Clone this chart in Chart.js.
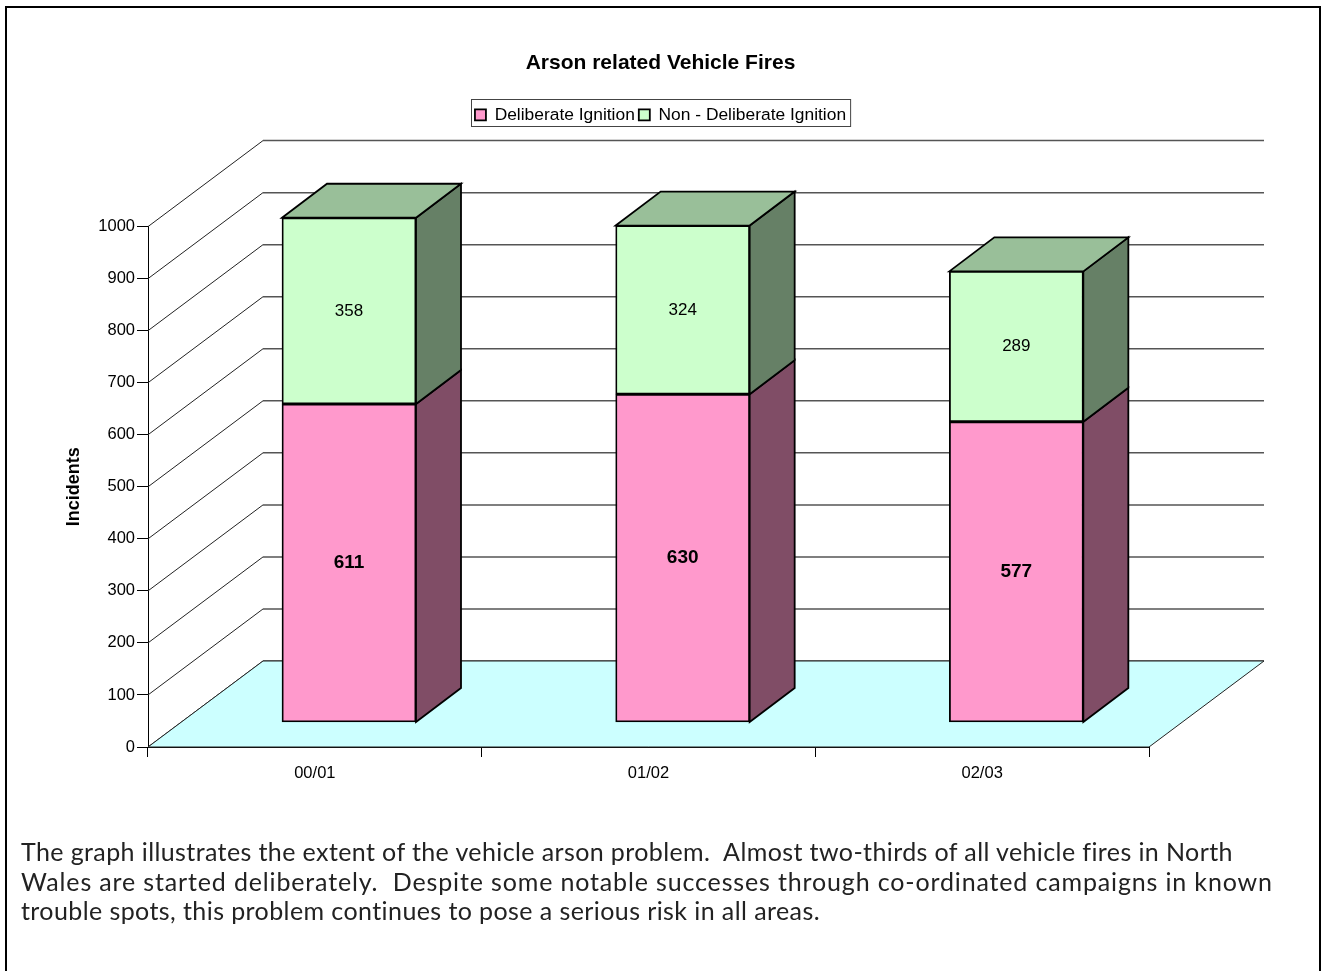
<!DOCTYPE html>
<html>
<head>
<meta charset="utf-8">
<title>Arson related Vehicle Fires</title>
<script src="https://cdn.jsdelivr.net/npm/chart.js@4/dist/chart.umd.min.js"></script>
<style>
  html, body { margin: 0; padding: 0; background: #fff; overflow: hidden; }
  #page { position: relative; width: 1321px; height: 971px; }
  #frame { position: absolute; left: 5px; top: 6px; width: 1312px; height: 965px; border: 2px solid #000; border-bottom: 0; }
  #holder { position: absolute; left: 0; top: 0; width: 1321px; height: 971px; }
  #note { position: absolute; left: 21px; top: 837px; font: 25px/29.5px Lato, sans-serif; color: #222; white-space: pre; }
  #note span { display: table; }
</style>
</head>
<body>
<div id="page">
  <div id="holder"><canvas id="myChart" width="1321" height="971"></canvas></div>
  <div id="frame"></div>
  <div id="note"></div>
</div>
<script>
const years = ['00/01', '01/02', '02/03']
const deliberate = [611, 630, 577]
const nonDeliberate = [358, 324, 289]
const yTicksMax = 1000
const noteLines = [
    'The graph illustrates the extent of the vehicle arson problem.  Almost two-thirds of all vehicle fires in North',
    'Wales are started deliberately.  Despite some notable successes through co-ordinated campaigns in known',
    'trouble spots, this problem continues to pose a serious risk in all areas.'
]
const noteWidths = [1211, 1251, 799]

// how far the box recedes into the page, and how far each bar does
const wallDepth = {x: 115, y: 86}
const barDepth = {x: 45, y: 34}

// spread each line of the note out to its set width
noteLines.forEach((line, i) => {
    let span = document.createElement('span')
    span.textContent = line
    document.getElementById('note').appendChild(span)
    let extra = noteWidths[i] - span.getBoundingClientRect().width
    span.style.letterSpacing = (extra / (line.length - 1)) + 'px'
})

Chart.defaults.font.family = '"Liberation Sans", Arial, sans-serif'
Chart.defaults.color = '#000'

function poly(ctx, pts, fill, stroke, width){
    ctx.beginPath()
    pts.forEach((p, i) => i == 0 ? ctx.moveTo(p[0], p[1]) : ctx.lineTo(p[0], p[1]))
    ctx.closePath()
    if(fill){
        ctx.fillStyle = fill
        ctx.fill()
    }
    if(stroke){
        ctx.strokeStyle = stroke
        ctx.lineWidth = width
        ctx.stroke()
    }
}

// the back wall, floor and the side/top faces of each bar
const box3d = {
    id: 'box3d',
    beforeDatasetsDraw(chart){
        let ctx = chart.ctx
        let yAxis = chart.scales.y
        let left = chart.chartArea.left
        let right = chart.chartArea.right
        let zero = yAxis.getPixelForValue(0)
        ctx.save()
        yAxis.ticks.forEach(t => {
            let y = yAxis.getPixelForValue(t.value)
            ctx.beginPath()
            ctx.moveTo(left, y)
            ctx.lineTo(left + wallDepth.x, y - wallDepth.y)
            ctx.strokeStyle = '#222'
            ctx.lineWidth = 1
            ctx.stroke()
            ctx.beginPath()
            ctx.moveTo(left + wallDepth.x, y - wallDepth.y)
            ctx.lineTo(right + wallDepth.x, y - wallDepth.y)
            ctx.strokeStyle = '#555'
            ctx.lineWidth = 1.5
            ctx.stroke()
        })
        poly(ctx, [[left, zero], [right, zero], [right + wallDepth.x, zero - wallDepth.y], [left + wallDepth.x, zero - wallDepth.y]], '#CCFFFF', '#222', 1)

        chart.data.datasets.forEach((ds, d) => {
            chart.getDatasetMeta(d).data.forEach(bar => {
                let x2 = bar.x + bar.width / 2
                poly(ctx, [[x2, bar.base], [x2 + barDepth.x, bar.base - barDepth.y], [x2 + barDepth.x, bar.y - barDepth.y], [x2, bar.y]], ds.sideColor, '#000', 1.8)
                if(d == chart.data.datasets.length - 1){
                    let x1 = bar.x - bar.width / 2
                    poly(ctx, [[x1, bar.y], [x1 + barDepth.x, bar.y - barDepth.y], [x2 + barDepth.x, bar.y - barDepth.y], [x2, bar.y]], ds.topColor, '#000', 1.8)
                }
            })
        })
        ctx.restore()
    },
    afterDatasetsDraw(chart){
        let ctx = chart.ctx
        ctx.save()
        ctx.textAlign = 'center'
        ctx.textBaseline = 'middle'
        ctx.fillStyle = '#000'
        chart.data.datasets.forEach((ds, d) => {
            chart.getDatasetMeta(d).data.forEach((bar, i) => {
                ctx.font = ds.labelFont
                ctx.fillText(ds.data[i].y, bar.x, (bar.y + bar.base) / 2)
            })
        })
        ctx.restore()
    }
}

// legend gets a white box with a border, and extra room underneath it
const legendBox = {
    id: 'legendBox',
    beforeInit(chart){
        let fit = chart.legend.fit
        chart.legend.fit = function(){
            fit.call(this)
            this.height += 93
        }
    },
    beforeDraw(chart){
        let ctx = chart.ctx
        let hits = chart.legend.legendHitBoxes
        let last = hits[hits.length - 1]
        ctx.save()
        ctx.strokeStyle = '#444'
        ctx.lineWidth = 1
        ctx.strokeRect(Math.round(hits[0].left) - 3.5, 99.5, last.left + last.width - hits[0].left + 8, 27)
        ctx.restore()
    }
}

new Chart(document.getElementById('myChart').getContext('2d'), {
    type: 'bar',
    data: {
        labels: years,
        datasets: [
            {
                label: 'Deliberate Ignition',
                data: deliberate.map((v, i) => ({x: i, y: v})),
                backgroundColor: '#FF99CC',
                borderColor: '#000',
                borderWidth: 1.8,
                borderSkipped: false,
                sideColor: '#804D66',
                labelFont: 'bold 19px "Liberation Sans"',
                xAxisID: 'xBar',
                yAxisID: 'yBar',
                clip: false
            },
            {
                label: 'Non - Deliberate Ignition',
                data: nonDeliberate.map((v, i) => ({x: i, y: v})),
                backgroundColor: '#CCFFCC',
                borderColor: '#000',
                borderWidth: 1.8,
                borderSkipped: false,
                sideColor: '#668066',
                topColor: '#99BF99',
                labelFont: '17px "Liberation Sans"',
                xAxisID: 'xBar',
                yAxisID: 'yBar',
                clip: false
            }
        ]
    },
    options: {
        responsive: false,
        animation: false,
        barThickness: 134,
        layout: {padding: 0},
        plugins: {
            title: {
                display: true,
                text: 'Arson related Vehicle Fires',
                font: {size: 21, weight: 'bold'},
                padding: {top: 51, bottom: 26}
            },
            legend: {
                position: 'top',
                onClick: null,
                labels: {boxWidth: 11, boxHeight: 11, padding: 4, font: {size: 17.4}}
            },
            tooltip: {enabled: false}
        },
        scales: {
            x: {
                type: 'category',
                offset: true,
                grid: {offset: true, drawOnChartArea: false, color: '#000', tickLength: 10},
                border: {color: '#000'},
                ticks: {padding: 7, font: {size: 16.5}, maxRotation: 0},
                afterFit(scale){ scale.height = 224 }
            },
            y: {
                min: 0,
                max: yTicksMax,
                grid: {drawOnChartArea: false, color: '#000', tickLength: 11},
                border: {color: '#000'},
                ticks: {stepSize: 100, padding: 2, font: {size: 16.5}, format: {useGrouping: false}},
                title: {display: true, text: 'Incidents', font: {size: 18, weight: 'bold'}, padding: {top: 63, bottom: 0}},
                afterFit(scale){ scale.width = 148 }
            },
            // empty axis that holds the margin to the right of the plot
            yMargin: {
                position: 'right',
                grid: {display: false},
                border: {display: false},
                ticks: {display: false},
                afterFit(scale){ scale.width = 172 }
            },
            // the bars stand forward of the wall, so they run on their own hidden axes
            xBar: {type: 'linear', display: false, stacked: true, offset: false, min: -0.6024, max: 2.3976},
            yBar: {type: 'linear', display: false, stacked: true, min: -48, max: 952}
        }
    },
    plugins: [box3d, legendBox]
})
</script>
</body>
</html>
